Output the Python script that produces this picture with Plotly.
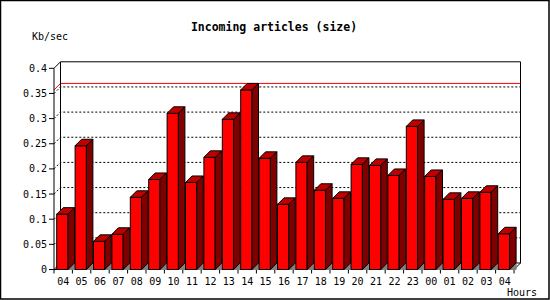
import plotly.graph_objects as go

# ---------------- data ----------------
hours = ["04", "05", "06", "07", "08", "09", "10", "11", "12", "13", "14", "15",
         "16", "17", "18", "19", "20", "21", "22", "23", "00", "01", "02", "03", "04"]
kb_per_sec = [0.110, 0.246, 0.056, 0.070, 0.1435, 0.179, 0.3105, 0.173, 0.223,
              0.2985, 0.357, 0.221, 0.1295, 0.213, 0.1575, 0.1415, 0.209, 0.207,
              0.187, 0.2845, 0.185, 0.1395, 0.1415, 0.1535, 0.071]
y_ticks = [0, 0.05, 0.1, 0.15, 0.2, 0.25, 0.3, 0.35, 0.4]
y_tick_labels = ["0", "0.05", "0.1", "0.15", "0.2", "0.25", "0.3", "0.35", "0.4"]
y_max = 0.4

# ---------------- geometry (pixels) ----------------
W, H = 550, 300
PX_X = 18.4          # pixels per category
PX_Y = 503.0         # pixels per 1.0 Kb/sec
X0PX, Y0PX = 54.0, 269.5   # pixel position of (x=-0.5, y=0)
L, R, T, B = 48, 523, 58, 274
DEPTH = 6.5
dx = DEPTH / PX_X
dy = DEPTH / PX_Y
BAR_START = 2.7 / PX_X
BAR_W = 11.3 / PX_X

n = len(hours)
xs = list(range(n))
x_lo = -0.5
x_hi = n - 0.5
x_range = [x_lo - (X0PX - L) / PX_X, x_lo + (R - X0PX) / PX_X]
y_range = [-(B - Y0PX) / PX_Y, (Y0PX - T) / PX_Y]


def polys(list_of_pts):
    px, py = [], []
    for pts in list_of_pts:
        for (a, b) in pts + [pts[0]]:
            px.append(a)
            py.append(b)
        px.append(None)
        py.append(None)
    return px, py


def paths(list_of_pts):
    px, py = [], []
    for pts in list_of_pts:
        for (a, b) in pts:
            px.append(a)
            py.append(b)
        px.append(None)
        py.append(None)
    return px, py


fig = go.Figure()

# dotted gridlines on the left wall and back wall
grid = []
for v in y_ticks[1:-1]:
    grid.append([(x_lo, v), (x_lo + dx, v + dy), (x_hi + dx, v + dy)])
gx, gy = paths(grid)
fig.add_trace(go.Scatter(x=gx, y=gy, mode="lines",
                         line=dict(color="black", width=1, dash="2px,2px"),
                         hoverinfo="skip", showlegend=False))

# red max line
vmax = max(kb_per_sec)
mx, my = paths([[(x_lo, vmax), (x_lo + dx, vmax + dy), (x_hi + dx, vmax + dy)]])
fig.add_trace(go.Scatter(x=mx, y=my, mode="lines",
                         line=dict(color="#ff0000", width=1),
                         hoverinfo="skip", showlegend=False))

# frame
frame = [
    [(x_lo, 0), (x_lo, y_max), (x_lo + dx, y_max + dy), (x_hi + dx, y_max + dy),
     (x_hi + dx, dy), (x_hi, 0), (x_lo, 0)],
    [(x_lo + dx, dy), (x_lo + dx, y_max + dy)],
    [(x_lo, 0), (x_lo + dx, dy), (x_hi + dx, dy)],
]
for v in y_ticks:
    frame.append([(x_lo - 5 / PX_X, v), (x_lo, v)])
for i in range(n + 1):
    frame.append([(i - 0.5, 0), (i - 0.5, -4 / PX_Y)])
fx, fy = paths(frame)
fig.add_trace(go.Scatter(x=fx, y=fy, mode="lines",
                         line=dict(color="black", width=1),
                         hoverinfo="skip", showlegend=False))

# bars
gray, front, top, side = [], [], [], []
for i, v in zip(xs, kb_per_sec):
    x0 = i - 0.5 + BAR_START
    x1 = x0 + BAR_W
    gray.append([(x1, 0), (x1 + dx, dy), (x1 + dx, 0)])
    front.append([(x0, 0), (x0, v), (x1, v), (x1, 0)])
    top.append([(x0, v), (x0 + dx, v + dy), (x1 + dx, v + dy), (x1, v)])
    side.append([(x1, 0), (x1, v), (x1 + dx, v + dy), (x1 + dx, dy)])

for shapes_, fillc, linec in [(gray, "#808080", "#808080"),
                              (front, "#ff0000", "black"),
                              (top, "#c00000", "black"),
                              (side, "#800000", "black")]:
    px_, py_ = polys(shapes_)
    fig.add_trace(go.Scatter(x=px_, y=py_, mode="lines", fill="toself",
                             fillcolor=fillc, line=dict(color=linec, width=1),
                             hoverinfo="skip", showlegend=False))

PW = R - L
PH = B - T


def pxx(p):
    return (p - L) / PW


def pyy(p):
    return (B - p) / PH


tickfont = dict(family="DejaVu Sans Mono", size=10, color="black")

fig.update_layout(
    width=W, height=H,
    margin=dict(l=L, r=W - R, t=T, b=H - B, pad=0),
    paper_bgcolor="white", plot_bgcolor="white",
    showlegend=False,
    title=dict(text="<b>Incoming articles (size)</b>", x=274 / W, y=1 - 27 / H,
               xref="container", yref="container", xanchor="center", yanchor="middle",
               font=dict(family="DejaVu Sans Mono", size=11.5, color="black")),
    xaxis=dict(range=x_range, showgrid=False, zeroline=False, showline=False,
               tickmode="array", tickvals=xs, ticktext=hours, ticks="",
               tickfont=tickfont, fixedrange=True),
    yaxis=dict(range=y_range, showgrid=False, zeroline=False, showline=False,
               tickmode="array", tickvals=y_ticks, ticktext=y_tick_labels, ticks="",
               tickfont=tickfont, fixedrange=True),
    annotations=[
        dict(text="Kb/sec", x=pxx(30), y=pyy(37), xref="paper", yref="paper",
             xanchor="left", yanchor="middle", showarrow=False, font=tickfont),
        dict(text="Hours", x=pxx(505), y=pyy(292), xref="paper", yref="paper",
             xanchor="left", yanchor="middle", showarrow=False, font=tickfont),
    ],
    shapes=[dict(type="rect", xref="paper", yref="paper",
                 x0=pxx(0.5), x1=pxx(549), y0=pyy(299), y1=pyy(0.5),
                 line=dict(color="black", width=1.5))],
)

fig.write_html("out.html")
